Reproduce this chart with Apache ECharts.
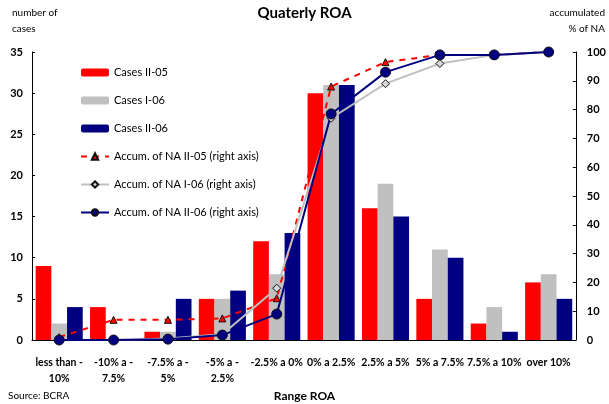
<!DOCTYPE html>
<html>
<head>
<meta charset="utf-8">
<script src="https://cdn.jsdelivr.net/npm/echarts@6/dist/echarts.min.js"></script>
<style>
  html, body { margin: 0; padding: 0; background: #fff; }
  #chart { width: 609px; height: 404px; }
</style>
</head>
<body>
<div id="chart"></div>
<script>
// ROA ranges (x axis)
const categories = [
  'less than -\n10%', '-10% a -\n7.5%', '-7.5% a -\n5%', '-5% a -\n2.5%',
  '-2.5% a 0%', '0% a 2.5%', '2.5% a 5%', '5% a 7.5%', '7.5% a 10%', 'over 10%'
];

// Number of cases per range
const casesII05 = [9, 4, 1, 5, 12, 30, 16, 5, 2, 7];
const casesI06  = [2, 0, 1, 5, 8, 31, 19, 11, 4, 8];
const casesII06 = [4, 0, 5, 6, 13, 31, 15, 10, 1, 5];

// Accumulated % of net assets (right axis)
const accumII05 = [1, 7, 7, 7.5, 14.5, 88, 96.5, 99, 99, 100];
const accumI06  = [0, 0, 0.5, 2, 18, 77, 89, 96, 99, 100];
const accumII06 = [0, 0, 0.3, 1.7, 9, 78.5, 93, 99, 99, 100];

// Axis ticks
const leftTicks  = { min: 0, max: 35, step: 5 };
const rightTicks = { min: 0, max: 100, step: 10 };

const FONT = 'Lato';
const RED = '#ff0000', GREY = '#c0c0c0', NAVY = '#000080';

const chart = echarts.init(document.getElementById('chart'), null, { renderer: 'canvas' });

const barSeries = (name, data, color) => ({
  name, type: 'bar', data, yAxisIndex: 0,
  barWidth: 15.7, barGap: '0%',
  itemStyle: { color },
  z: 2
});

const lineSeries = (name, data, color, symbol, size, fill, dashed) => ({
  name, type: 'line', data, yAxisIndex: 1,
  symbol, symbolSize: size, showAllSymbol: true,
  lineStyle: { color, width: 2, type: dashed ? [6, 6] : 'solid' },
  itemStyle: { color: fill, borderColor: '#111', borderWidth: 1 },
  z: 5
});

const axisLabelStyle = { color: '#000', fontFamily: FONT, fontWeight: 'bold', fontSize: 11 };

chart.setOption({
  animation: false,
  backgroundColor: '#fff',
  textStyle: { fontFamily: FONT },
  grid: { left: 32, right: 27, top: 52, bottom: 64, containLabel: false },
  title: {
    text: 'Quaterly ROA', left: 'center', top: 1,
    textStyle: { fontFamily: FONT, fontWeight: 'bold', fontSize: 15, color: '#000' }
  },
  graphic: [
    { type: 'text', left: 12, top: 8, style: { text: 'number of', fontFamily: FONT, fontSize: 10, fill: '#000' } },
    { type: 'text', left: 12, top: 24, style: { text: 'cases', fontFamily: FONT, fontSize: 10, fill: '#000' } },
    { type: 'text', right: 4, top: 8, style: { text: 'accumulated', fontFamily: FONT, fontSize: 10, fill: '#000', align: 'right' } },
    { type: 'text', right: 4, top: 24, style: { text: '% of NA', fontFamily: FONT, fontSize: 10, fill: '#000', align: 'right' } },
    { type: 'text', left: 8, top: 391, style: { text: 'Source: BCRA', fontFamily: FONT, fontSize: 10, fill: '#000' } },
    { type: 'text', left: 'center', top: 390, style: { text: 'Range ROA', fontFamily: FONT, fontSize: 12, fontWeight: 'bold', fill: '#000' } }
  ],
  legend: {
    orient: 'vertical', left: 75, top: 62,
    itemWidth: 28, itemHeight: 8, itemGap: 17,
    textStyle: { fontFamily: FONT, fontSize: 11, color: '#000' },
    data: ['Cases II-05', 'Cases I-06', 'Cases II-06',
      'Accum. of NA II-05 (right axis)', 'Accum. of NA I-06 (right axis)', 'Accum. of NA II-06 (right axis)']
  },
  xAxis: {
    type: 'category', data: categories,
    axisLine: { show: true, lineStyle: { color: '#000', width: 1 } },
    axisTick: { show: false },
    axisLabel: { ...axisLabelStyle, fontSize: 10.5, interval: 0, margin: 15, lineHeight: 16 },
    splitLine: { show: false }
  },
  yAxis: [
    {
      type: 'value', min: leftTicks.min, max: leftTicks.max, interval: leftTicks.step,
      axisLine: { show: true, lineStyle: { color: '#000', width: 1 } },
      axisTick: { show: true, inside: true, length: 3, lineStyle: { color: '#000' } },
      axisLabel: { ...axisLabelStyle, margin: 9 },
      splitLine: { show: false }
    },
    {
      type: 'value', min: rightTicks.min, max: rightTicks.max, interval: rightTicks.step,
      position: 'right',
      axisLine: { show: true, lineStyle: { color: '#000', width: 1 } },
      axisTick: { show: true, inside: true, length: 3, lineStyle: { color: '#000' } },
      axisLabel: { ...axisLabelStyle, margin: 11 },
      splitLine: { show: false }
    }
  ],
  series: [
    barSeries('Cases II-05', casesII05, RED),
    barSeries('Cases I-06', casesI06, GREY),
    barSeries('Cases II-06', casesII06, NAVY),
    lineSeries('Accum. of NA II-05 (right axis)', accumII05, RED, 'triangle', 7, RED, true),
    lineSeries('Accum. of NA I-06 (right axis)', accumI06, GREY, 'diamond', 8, '#d8d8d8', false),
    lineSeries('Accum. of NA II-06 (right axis)', accumII06, NAVY, 'circle', 10, NAVY, false)
  ]
});
</script>
</body>
</html>
